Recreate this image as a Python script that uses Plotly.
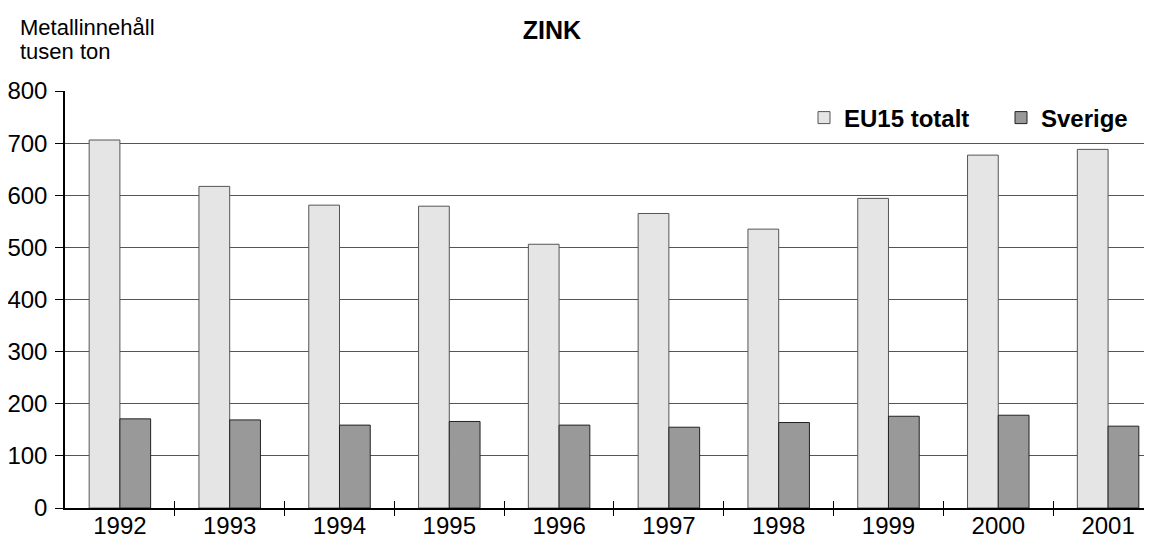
import plotly.graph_objects as go

years = [1992, 1993, 1994, 1995, 1996, 1997, 1998, 1999, 2000, 2001]
eu15_totalt = [706, 617, 581, 579, 506, 565, 535, 594, 677, 688]
sverige = [171, 169, 159, 166, 159, 155, 164, 176, 178, 157]
y_ticks = [0, 100, 200, 300, 400, 500, 600, 700, 800]

FONT = "Liberation Sans, Arial, Helvetica, sans-serif"
# the page places the figure 8px from the window's top-left corner
OFF = 8
W, H = 1152 - OFF, 543 - OFF
ML, MT, MB, MR = 65 - OFF, 91 - OFF, 35, 0
PW, PH = W - ML - MR, H - MT - MB

x_range = [years[0] - 0.5, years[-1] + 0.4]
boundaries = [y + 0.5 for y in years[:-1]]

fig = go.Figure()
fig.add_trace(go.Bar(
    x=years, y=eu15_totalt, name="EU15 totalt",
    marker=dict(color="#e5e5e5", line=dict(color="#555555", width=1)),
))
fig.add_trace(go.Bar(
    x=years, y=sverige, name="Sverige",
    marker=dict(color="#999999", line=dict(color="#222222", width=1)),
))
# invisible helpers for tick-mark overlay axes
for ax in ["x2", "x3"]:
    fig.add_trace(go.Scatter(x=x_range, y=[0, 0], xaxis=ax, yaxis="y",
                             mode="lines", line=dict(width=0),
                             showlegend=False, hoverinfo="skip"))

tick_axis = dict(overlaying="x", anchor="y", range=x_range, automargin=False,
                 tickmode="array", tickvals=boundaries, ticklen=7,
                 tickwidth=1, tickcolor="#000000", showticklabels=False,
                 showgrid=False, zeroline=False, showline=False)

fig.update_layout(
    width=W, height=H,
    margin=dict(l=ML, r=MR, t=MT, b=MB, pad=0, autoexpand=False),
    paper_bgcolor="white", plot_bgcolor="white",
    font=dict(family=FONT, size=24, color="#000000"),
    barmode="group", bargap=0.44, bargroupgap=0,
    title=dict(text="<b>ZINK</b>", x=(552 - OFF) / W, xanchor="center",
               y=1 - (30 - OFF) / H, yanchor="middle",
               font=dict(family=FONT, size=25, color="#000000")),
    xaxis=dict(range=x_range, tickmode="array", tickvals=years,
               ticktext=[str(y) for y in years], ticks="", automargin=False,
               ticklabelstandoff=-5,
               showgrid=False, zeroline=False, showline=True,
               linecolor="#000000", linewidth=1.5,
               tickfont=dict(family=FONT, size=24)),
    xaxis2=dict(tick_axis, ticks="outside"),
    xaxis3=dict(tick_axis, ticks="inside"),
    yaxis=dict(range=[0, 800], tickmode="array", tickvals=y_ticks,
               ticks="outside", ticklen=8, tickcolor="#000000",
               automargin=False, ticklabelstandoff=3,
               showgrid=True, gridcolor="#555555", gridwidth=1,
               zeroline=False, showline=True, linecolor="#000000",
               linewidth=1.5, tickfont=dict(family=FONT, size=24)),
    legend=dict(orientation="h", x=(804 - OFF - ML) / PW, xanchor="left",
                y=(H - MB - (118 - OFF)) / PH, yanchor="middle",
                bgcolor="rgba(0,0,0,0)",
                font=dict(family=FONT, size=24, color="#000000",
                          weight="bold"),
                entrywidth=152, entrywidthmode="pixels",
                itemwidth=30, traceorder="normal"),
    showlegend=True,
)

for txt, ybase in [("Metallinnehåll", 33), ("tusen ton", 57)]:
    fig.add_annotation(
        text=txt, xref="paper", yref="paper",
        x=(11 - ML) / PW, xanchor="left",
        y=(H - MB - ybase) / PH, yanchor="bottom",
        showarrow=False, align="left", borderpad=0,
        font=dict(family=FONT, size=22, color="#000000"),
    )

fig.write_html("out.html")
